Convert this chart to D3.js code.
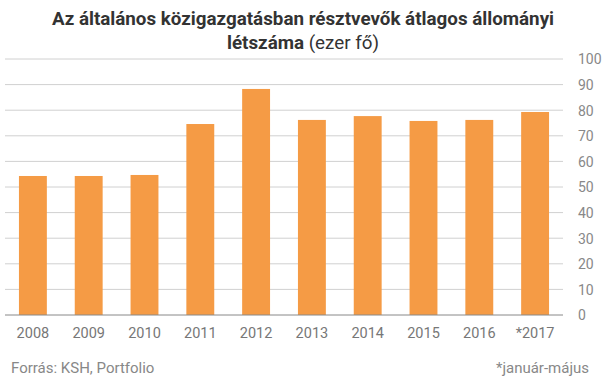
<!DOCTYPE html>
<html>
<head>
<meta charset="utf-8">
<script src="https://cdn.jsdelivr.net/npm/d3@7"></script>
<style>
  body { margin: 0; background: #fff; }
  text { font-family: Roboto, sans-serif; }
</style>
</head>
<body>
<div id="chart"></div>
<script>
// data
var years = ['2008','2009','2010','2011','2012','2013','2014','2015','2016','*2017'];
var values = [54.3, 54.3, 54.7, 74.6, 88.3, 76.2, 77.7, 75.8, 76.2, 79.3];
var yTicks = [0,10,20,30,40,50,60,70,80,90,100];

var width = 605, height = 378;
var margin = {top: 59, right: 42, bottom: 63, left: 5};

var svg = d3.select("#chart")
  .append("svg")
    .attr("width", width)
    .attr("height", height);

var x = d3.scaleBand()
  .domain(years)
  .range([margin.left, width - margin.right])
  .paddingInner(0.5)
  .paddingOuter(0.25);

var y = d3.scaleLinear()
  .domain([0, 100])
  .range([height - margin.bottom, margin.top]);

// gridlines
svg.selectAll(".grid")
  .data(yTicks.filter(function(d) { return d > 0; }))
  .enter()
  .append("line")
    .attr("x1", margin.left)
    .attr("x2", width - margin.right)
    .attr("y1", function(d) { return y(d); })
    .attr("y2", function(d) { return y(d); })
    .attr("stroke", "#d0d0d0")
    .attr("stroke-width", 1);

// bars
svg.selectAll("rect")
  .data(values)
  .enter()
  .append("rect")
    .attr("x", function(d, i) { return x(years[i]); })
    .attr("y", function(d) { return y(d); })
    .attr("width", x.bandwidth())
    .attr("height", function(d) { return y(0) - y(d); })
    .attr("fill", "#F59B45");

// baseline
svg.append("line")
  .attr("x1", margin.left)
  .attr("x2", width - margin.right)
  .attr("y1", y(0))
  .attr("y2", y(0))
  .attr("stroke", "#888")
  .attr("stroke-width", 1);

// y axis on the right
var yAxis = svg.append("g")
  .attr("transform", "translate(" + (width - margin.right + 15) + ",0)")
  .call(d3.axisRight(y).tickValues(yTicks).tickSize(0).tickPadding(0));
yAxis.select(".domain").remove();
yAxis.selectAll("text")
  .attr("fill", "#888")
  .style("font-size", "14px")
  .attr("dy", "0.35em");

// x axis labels
var xAxis = svg.append("g")
  .attr("transform", "translate(0," + y(0) + ")")
  .call(d3.axisBottom(x).tickSize(0).tickPadding(13));
xAxis.select(".domain").remove();
xAxis.selectAll("text")
  .attr("fill", "#777")
  .style("font-size", "14.5px");

// title
var title = svg.append("text")
  .attr("x", 303)
  .attr("text-anchor", "middle")
  .attr("fill", "#333")
  .style("font-size", "18.8px")
  .style("font-weight", "bold");
title.append("tspan")
  .attr("x", 303).attr("y", 25)
  .text("Az általános közigazgatásban résztvevők átlagos állományi");
title.append("tspan")
  .attr("x", 303).attr("y", 49)
  .text("létszáma");
title.append("tspan")
  .style("font-weight", "normal")
  .text(" (ezer fő)");

// footer
svg.append("text")
  .attr("x", 11)
  .attr("y", 373)
  .attr("fill", "#888")
  .style("font-size", "15px")
  .text("Forrás: KSH, Portfolio");

svg.append("text")
  .attr("x", 589)
  .attr("y", 373)
  .attr("text-anchor", "end")
  .attr("fill", "#888")
  .style("font-size", "15px")
  .text("*január-május");
</script>
</body>
</html>
